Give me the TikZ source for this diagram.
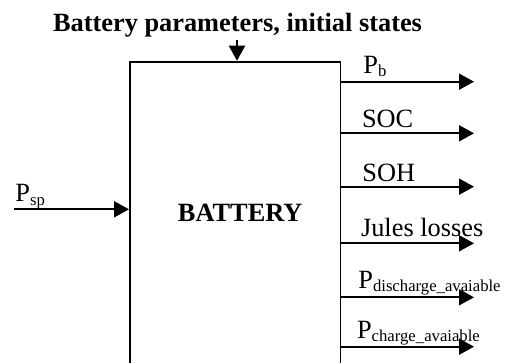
\documentclass[tikz,border=0pt]{standalone}
\usepackage{fontspec}
\setmainfont{Liberation Serif}
\usetikzlibrary{arrows.meta, positioning}
\newcommand{\subtxt}[1]{\raisebox{-0.3ex}{\fontsize{9.5}{11}\selectfont #1}}

\begin{document}
\begin{tikzpicture}[
  blk/.style = {draw, line width=1.1pt, minimum width=4.21cm,
                minimum height=6.2cm, text depth=0.17cm,
                font=\fontsize{15}{18}\selectfont\bfseries},
  sig/.style = {-{Triangle[length=0.3cm,width=0.32cm]}, line width=1.1pt},
  lbl/.style = {anchor=base west, inner sep=0pt, font=\fontsize{15}{18}\selectfont},
]
\clip (0,0) rectangle (10.16,7.24);

%% ── block and parameters ────────────────────────────────────────────────────
\node[blk] (batt) at (4.705, 2.906) {\hspace{0.2cm}BATTERY};
\node[font=\fontsize{15}{18}\selectfont\bfseries, anchor=base, inner sep=0pt]
  (title) at (4.75, 6.606) {Battery parameters, initial states};
\coordinate (ptop) at (4.74, 6.44);
\draw[sig] (ptop) -- (ptop |- batt.north);

%% ── input ───────────────────────────────────────────────────────────────────
\coordinate (psp) at (0.28, 3.054);
\draw[sig] (psp) -- (psp -| batt.west);
\node[lbl] (lpsp) at (0.30, 3.206) {P\subtxt{sp}};

%% ── outputs ─────────────────────────────────────────────────────────────────
\coordinate (out1) at (9.48, 5.606);
\coordinate (out2) at (9.48, 4.574);
\coordinate (out3) at (9.48, 3.506);
\coordinate (out4) at (9.48, 2.374);
\coordinate (out5) at (9.48, 1.294);
\coordinate (out6) at (9.48, 0.306);

\draw[sig] (batt.east |- out1) -- (out1);
\draw[sig] (batt.east |- out2) -- (out2);
\draw[sig] (batt.east |- out3) -- (out3);
\draw[sig] (batt.east |- out4) -- (out4);
\draw[sig] (batt.east |- out5) -- (out5);
\draw[sig] (batt.east |- out6) -- (out6);

\node[lbl] (lpb)  at (7.26, 5.774) {P\subtxt{b}};
\node[lbl] (lsoc) at (7.234, 4.694) {SOC};
\node[lbl] (lsoh) at (7.24, 3.606) {SOH};
\node[lbl] (ljl)  at (7.214, 2.506) {Jules losses};
\node[lbl] (ldis) at (7.16, 1.474) {P\subtxt{discharge\_avaiable}};
\node[lbl] (lch)  at (7.134, 0.474) {P\subtxt{charge\_avaiable}};

\end{tikzpicture}
\end{document}
